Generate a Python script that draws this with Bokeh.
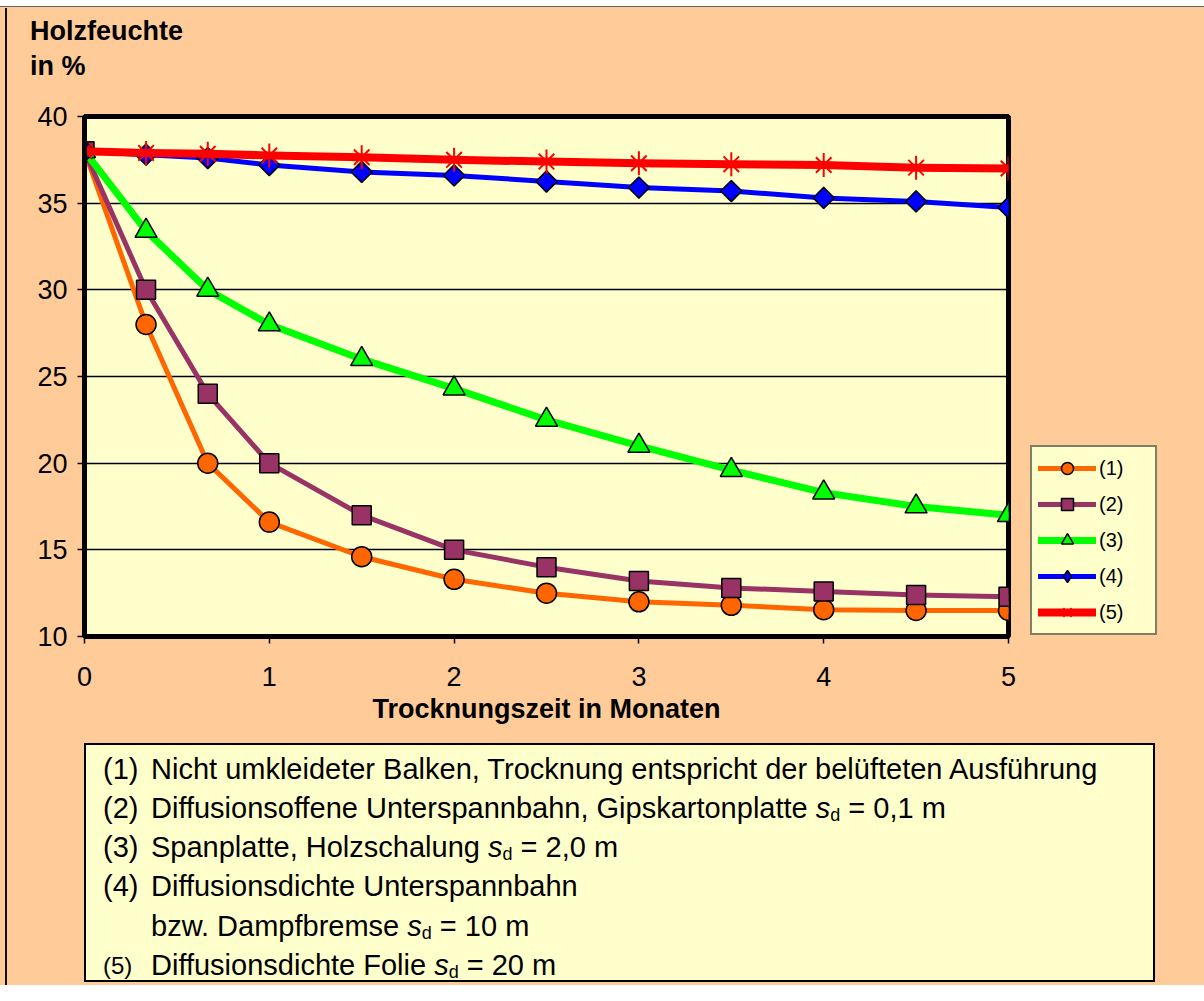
from bokeh.plotting import figure
from bokeh.models import Range1d, FixedTicker, Legend, LegendItem, Div
from bokeh.layouts import column
from bokeh.embed import file_html
from bokeh.resources import INLINE
from math import pi

# ---------------- data ----------------
months = [0, 0.333, 0.667, 1, 1.5, 2, 2.5, 3, 3.5, 4, 4.5, 5]
s1 = [38, 28.0, 20.0, 16.6, 14.6, 13.3, 12.5, 12.0, 11.8, 11.55, 11.5, 11.5]
s2 = [38, 30.0, 24.0, 20.0, 17.0, 15.0, 14.0, 13.2, 12.8, 12.6, 12.4, 12.3]
s3 = [38, 33.4, 30.0, 28.0, 26.0, 24.3, 22.5, 21.0, 19.6, 18.3, 17.5, 17.0]
s4 = [38, 37.8, 37.6, 37.2, 36.8, 36.6, 36.25, 35.9, 35.7, 35.3, 35.1, 34.75]
s5 = [38, 37.9, 37.85, 37.75, 37.65, 37.5, 37.4, 37.3, 37.25, 37.2, 37.05, 37.0]
series_labels = ["(1)", "(2)", "(3)", "(4)", "(5)"]
x_ticks = [0, 1, 2, 3, 4, 5]
y_ticks = [10, 15, 20, 25, 30, 35, 40]
y_title = ["Holzfeuchte", "in %"]
x_title = "Trocknungszeit in Monaten"
notes = [
    ("(1)", "Nicht umkleideter Balken, Trocknung entspricht der belüfteten Ausführung", None),
    ("(2)", "Diffusionsoffene Unterspannbahn, Gipskartonplatte ", " = 0,1 m"),
    ("(3)", "Spanplatte, Holzschalung ", " = 2,0 m"),
    ("(4)", "Diffusionsdichte Unterspannbahn", None),
    ("", "bzw. Dampfbremse ", " = 10 m"),
    ("(5)", "Diffusionsdichte Folie ", " = 20 m"),
]

FONT = "Liberation Sans"
PEACH = "#FFCC99"
CREAM = "#FFFFCC"
WIDTH = 1188
TOTAL_H = 985
TITLE_H = 90
FL, FR, FT, FB = 84, 1008, 116, 636   # chart frame edges (page px)
CHART_BOTTOM = 740
NL, NR, NT, NB = 84, 1155, 743, 982   # notes box edges (page px)

# ---------------- y title (top strip) ----------------
title_html = (
    f'<div style="position:relative;width:{WIDTH + 16}px;height:{TITLE_H}px;background:{PEACH};'
    f'font-family:\'{FONT}\';font-weight:bold;font-size:27px;color:black;">'
    '<div style="position:absolute;left:0;top:0;width:100%;height:7px;background:white;'
    'border-bottom:1px solid #666;"></div>'
    f'<div style="position:absolute;left:30px;top:{41 - 23}px;line-height:27px;white-space:nowrap;">{y_title[0]}</div>'
    f'<div style="position:absolute;left:30px;top:{76 - 23}px;line-height:27px;white-space:nowrap;">{y_title[1]}</div>'
    '</div>'
)
top_div = Div(text=title_html, width=WIDTH, height=TITLE_H, margin=(0, 0, 0, 0),
              styles={"background-color": PEACH})

# ---------------- chart ----------------
p = figure(frame_width=FR - FL, frame_height=FB - FT,
           x_range=Range1d(0, 5), y_range=Range1d(10, 40),
           output_backend="svg", toolbar_location=None, title_location=None,
           min_border_left=FL, min_border_right=WIDTH - FR, min_border_top=FT - TITLE_H,
           min_border_bottom=CHART_BOTTOM - FB, margin=(0, 0, 0, 0))
p.background_fill_color = CREAM
p.border_fill_color = PEACH
p.outline_line_color = "black"
p.outline_line_width = 5

for ax in (p.xaxis[0], p.yaxis[0]):
    ax.axis_line_color = "black"
    ax.axis_line_width = 5
    ax.major_tick_line_color = "black"
    ax.major_tick_line_width = 1.5
    ax.major_tick_out = 7
    ax.major_tick_in = 0
    ax.minor_tick_line_color = None
    ax.major_label_text_font = FONT
    ax.major_label_text_font_size = "27px"
    ax.major_label_text_color = "black"

p.xaxis.ticker = FixedTicker(ticks=x_ticks)
p.yaxis.ticker = FixedTicker(ticks=y_ticks)
p.xaxis.major_label_standoff = 23
p.yaxis.major_label_standoff = 10
p.xaxis.axis_label = x_title
p.xaxis.axis_label_text_font = FONT
p.xaxis.axis_label_text_font_size = "27px"
p.xaxis.axis_label_text_font_style = "bold"
p.xaxis.axis_label_text_color = "black"
p.xaxis.axis_label_standoff = 5

p.xgrid.visible = False
p.ygrid.grid_line_color = "black"
p.ygrid.grid_line_width = 1.3

colors = ["#FF6600", "#993366", "#00FF00", "#0000FF", "#FF0000"]
widths = [5, 5, 7, 5, 8]
data = [s1, s2, s3, s4, s5]
NAN = float("nan")
items = []
for i, (ys, col, lw) in enumerate(zip(data, colors, widths)):
    r_line = p.line(months, ys, line_color=col, line_width=lw, line_join="round", line_cap="round")
    rs = [r_line]
    if i == 0:
        rs.append(p.scatter(months, ys, marker="circle", size=20, fill_color=col,
                            line_color="black", line_width=1.5))
    elif i == 1:
        rs.append(p.scatter(months, ys, marker="square", size=19, fill_color=col,
                            line_color="black", line_width=1.5))
    elif i == 2:
        rs.append(p.scatter(months, ys, marker="triangle", size=22, fill_color=col,
                            line_color="black", line_width=1.5))
    elif i == 3:
        p.scatter(months, ys, marker="square", angle=pi / 4, size=15, fill_color=col,
                  line_color="black", line_width=1.5)
        # legend swatch only (the legend ignores marker angle); NaN point draws nothing
        rs.append(p.scatter([NAN], [NAN], marker="diamond", size=20, fill_color=col,
                            line_color="black", line_width=1.5))
    else:
        rs.append(p.scatter(months, ys, marker="x", size=22, line_color=col, line_width=2))
        rs.append(p.scatter(months, ys, marker="dash", angle=pi / 2, size=24,
                            line_color=col, line_width=2))
    items.append(LegendItem(label=series_labels[i], renderers=rs))

legend = Legend(items=items, location=(1030 - FR, FB - 635))
legend.background_fill_color = CREAM
legend.background_fill_alpha = 1
legend.border_line_color = "black"
legend.border_line_width = 2
legend.padding = 6
legend.margin = 0
legend.spacing = 6
legend.glyph_width = 58
legend.glyph_height = 30
legend.label_height = 30
legend.label_width = 50
legend.label_standoff = 3
legend.label_text_font = FONT
legend.label_text_font_size = "20px"
legend.label_text_color = "black"
p.add_layout(legend, "right")

# ---------------- notes box (HTML text) ----------------
BODY = 29
NOTES_H = TOTAL_H - CHART_BOTTOM
baselines = [780, 819, 858, 897, 937, 976]
asc = round(0.8465 * BODY)
rows_html = []
for (num, body, tail), base in zip(notes, baselines):
    top = base - CHART_BOTTOM - asc
    if num:
        fs = BODY if num != "(5)" else 24
        rows_html.append(
            f'<div style="position:absolute;left:103px;top:{top}px;font-size:{fs}px;'
            f'line-height:{BODY}px;white-space:nowrap;">{num}</div>')
    txt = body
    if tail is not None:
        txt += ('<i>s</i><span style="font-size:18px;position:relative;top:3px;">d</span>'
                + tail)
    rows_html.append(
        f'<div style="position:absolute;left:151px;top:{top}px;font-size:{BODY}px;'
        f'line-height:{BODY}px;white-space:nowrap;">{txt}</div>')

notes_html = (
    f'<div style="position:relative;width:{WIDTH}px;height:{NOTES_H}px;background:{PEACH};'
    f'font-family:\'{FONT}\';color:black;overflow:hidden;">'
    f'<div style="position:absolute;left:{NL}px;top:{NT - CHART_BOTTOM}px;width:{NR - NL}px;'
    f'height:{NB - NT}px;box-sizing:border-box;border:2px solid black;background:{CREAM};"></div>'
    + "".join(rows_html) +
    '</div>'
)
notes_div = Div(text=notes_html, width=WIDTH, height=NOTES_H, margin=(0, 0, 0, 0),
                styles={"background-color": PEACH})

frame_css = (
    ":host { position: relative; }"
    ":host::after { content: ''; position: absolute; left: 5px; top: 8px; bottom: 0; width: 2px;"
    " background: #111; z-index: 10; pointer-events: none; }"
)
layout = column(top_div, p, notes_div, spacing=0, styles={"background-color": PEACH},
                stylesheets=[frame_css])
open("out.html", "w").write(file_html(layout, INLINE))
